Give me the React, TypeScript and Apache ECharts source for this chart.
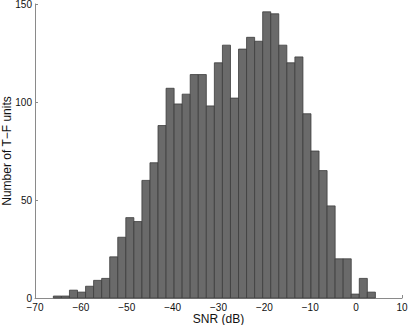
import React, { useEffect, useRef } from "react";
import * as echarts from "echarts";

// Histogram of SNR (dB), 40 bins
const binStart = -66.0;
const binWidth = 1.755;
const counts = [
  1, 1, 4, 3, 6, 9, 10, 21, 31, 41, 39, 60, 69, 88, 107, 99, 104, 114, 114, 98,
  120, 129, 102, 127, 133, 131, 146, 145, 129, 120, 123, 94, 75, 65, 47, 20, 20, 2, 10, 3,
];
const xTicks = [-70, -60, -50, -40, -30, -20, -10, 0, 10];
const yTicks = [0, 50, 100, 150];
const xTitle = "SNR (dB)";
const yTitle = "Number of T\u2212F units";

const FONT = "'Liberation Sans', Arial, Helvetica, sans-serif";

export default function App() {
  const ref = useRef<HTMLDivElement>(null);
  useEffect(() => {
    if (!ref.current) return;
    const chart = echarts.init(ref.current, null, { renderer: "svg" });
    const data = counts.map((c, i) => [binStart + i * binWidth, binStart + (i + 1) * binWidth, c]);
    chart.setOption({
      animation: false,
      backgroundColor: "#ffffff",
      grid: { left: 35, right: 6, top: 4, bottom: 27, containLabel: false, outerBoundsMode: "none" },
      xAxis: {
        type: "value",
        min: xTicks[0],
        max: xTicks[xTicks.length - 1],
        interval: 10,
        splitLine: { show: false },
        axisLine: { show: true, onZero: false, lineStyle: { color: "#8a8a8a", width: 1 } },
        axisTick: { show: true, inside: true, length: 3, lineStyle: { color: "#8a8a8a" } },
        axisLabel: {
          fontSize: 10,
          lineHeight: 10,
          color: "#111",
          fontFamily: FONT,
          margin: 4,
          formatter: (v: number) => String(v).replace("-", "\u2212"),
        },
      },
      yAxis: {
        type: "value",
        min: yTicks[0],
        max: yTicks[yTicks.length - 1],
        interval: 50,
        splitLine: { show: false },
        axisLine: { show: true, onZero: false, lineStyle: { color: "#8a8a8a", width: 1 } },
        axisTick: { show: true, inside: true, length: 3, lineStyle: { color: "#8a8a8a" } },
        axisLabel: { fontSize: 10, lineHeight: 10, color: "#111", fontFamily: FONT, margin: 3 },
      },
      graphic: [
        {
          type: "text",
          x: 218.5,
          y: 319,
          style: {
            text: xTitle,
            fontSize: 12,
            lineHeight: 12,
            fontFamily: FONT,
            fill: "#111",
            textAlign: "center",
            textVerticalAlign: "middle",
          },
        },
        {
          type: "text",
          x: 7,
          y: 151,
          rotation: Math.PI / 2,
          style: {
            text: yTitle,
            fontSize: 12,
            fontFamily: FONT,
            fill: "#111",
            textAlign: "center",
            textVerticalAlign: "middle",
          },
        },
      ],
      series: [
        {
          type: "custom",
          data,
          encode: { x: [0, 1], y: 2 },
          renderItem: (_params: any, api: any) => {
            const p0 = api.coord([api.value(0), api.value(2)]);
            const p1 = api.coord([api.value(1), 0]);
            return {
              type: "rect",
              shape: { x: p0[0], y: p0[1], width: p1[0] - p0[0], height: p1[1] - p0[1] },
              style: { fill: "#6a6a6a", stroke: "#3c3c3c", lineWidth: 0.8 },
            };
          },
        },
      ],
    });
    return () => chart.dispose();
  }, []);
  return (
    <div
      ref={ref}
      style={{ position: "fixed", left: 0, top: 0, width: 408, height: 325, background: "#fff" }}
    />
  );
}
